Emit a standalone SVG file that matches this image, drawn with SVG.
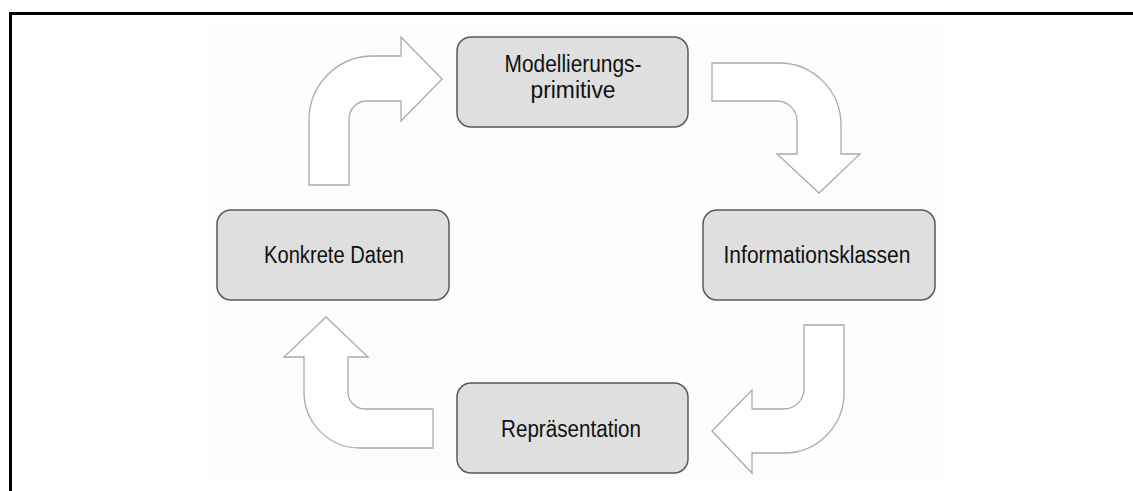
<svg xmlns="http://www.w3.org/2000/svg" width="1133" height="491" viewBox="0 0 1133 491">
  <style>
    .frame { fill: none; stroke: #000; stroke-width: 3; }
    .box { fill: #dfdfdf; stroke: #5a5a5a; stroke-width: 1.5; }
    .label { font-family: "Liberation Sans", Arial, sans-serif; font-size: 23.5px; fill: #111; text-anchor: middle; }
    .flow { fill: #fff; stroke: #ababab; stroke-width: 1.3; stroke-linejoin: miter; }
  </style>

  <rect width="1133" height="491" fill="#fff"/>
  <!-- panel background -->
  <rect x="210" y="27" width="735" height="456" fill="#fdfdfd"/>
  <!-- outer frame: top and left rules -->
  <path class="frame" d="M10.5,491 L10.5,13.5 L1133,13.5"/>

  <!-- bent block arrows between the stages -->
  <g id="connectors">
    <path id="arrow-daten-modell" class="flow" d="M309,185 L309,120 A64,64 0 0 1 373,56 L401,56 L401,37 L442,79 L401,121 L401,101 L367,101 A18,18 0 0 0 349,119 L349,185 Z"/>
    <path id="arrow-modell-info" class="flow" d="M712,63 L779,63 A62,62 0 0 1 841,125 L841,154 L860,154 L819,193 L777,154 L797,154 L797,121 A20,20 0 0 0 777,101 L712,101 Z"/>
    <path id="arrow-info-repr" class="flow" d="M804,325 L844,325 L844,393 A60,60 0 0 1 784,453 L752,453 L752,473 L712,431 L752,390 L752,409 L784,409 A20,20 0 0 0 804,389 Z"/>
    <path id="arrow-repr-daten" class="flow" d="M433,448 L360,448 A56,56 0 0 1 304,392 L304,357 L284,357 L326,317 L368,357 L348,357 L348,392 A17,17 0 0 0 365,409 L433,409 Z"/>
  </g>

  <g id="node-modellierungsprimitive">
    <rect class="box" x="457" y="37" width="231" height="90" rx="14" ry="14"/>
    <text class="label" x="573" y="72" textLength="137" lengthAdjust="spacingAndGlyphs">Modellierungs-</text>
    <text class="label" x="573" y="98" textLength="85" lengthAdjust="spacingAndGlyphs">primitive</text>
  </g>

  <g id="node-informationsklassen">
    <rect class="box" x="703" y="210" width="232" height="90" rx="14" ry="14"/>
    <text class="label" x="817" y="263" textLength="187" lengthAdjust="spacingAndGlyphs">Informationsklassen</text>
  </g>

  <g id="node-repraesentation">
    <rect class="box" x="457" y="383" width="231" height="90" rx="14" ry="14"/>
    <text class="label" x="571" y="437" textLength="140" lengthAdjust="spacingAndGlyphs">Repräsentation</text>
  </g>

  <g id="node-konkrete-daten">
    <rect class="box" x="217" y="210" width="232" height="90" rx="14" ry="14"/>
    <text class="label" x="334" y="263" textLength="140" lengthAdjust="spacingAndGlyphs">Konkrete Daten</text>
  </g>
</svg>
